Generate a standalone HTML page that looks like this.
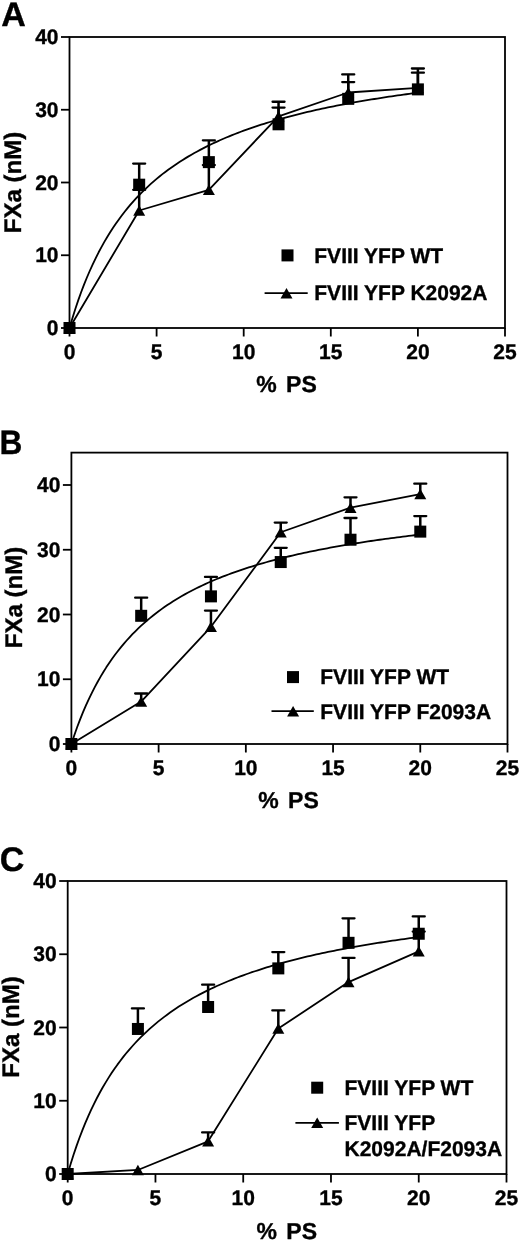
<!DOCTYPE html>
<html><head><meta charset="utf-8"><title>FXa vs PS</title>
<style>
html,body{margin:0;padding:0;background:#fff;}
body{width:520px;height:1245px;overflow:hidden;}
svg{display:block;will-change:transform;}
svg text{font-family:"Liberation Sans", sans-serif;fill:#000;text-rendering:geometricPrecision;stroke:#000;stroke-width:0.35px;}
</style></head>
<body>
<svg width="520" height="1245" viewBox="0 0 520 1245">
<rect width="520" height="1245" fill="#fff"/>
<text transform="translate(1.30,25.50) scale(1.0,1)" font-size="34" font-weight="bold">A</text>
<rect x="69.50" y="37.00" width="435.50" height="291.00" fill="none" stroke="#000" stroke-width="1.8"/>
<line x1="61.00" y1="328.00" x2="69.50" y2="328.00" stroke="#000" stroke-width="1.8"/>
<text x="58.50" y="335.10" font-size="21" font-weight="bold" text-anchor="end">0</text>
<line x1="61.00" y1="255.25" x2="69.50" y2="255.25" stroke="#000" stroke-width="1.8"/>
<text x="58.50" y="262.35" font-size="21" font-weight="bold" text-anchor="end">10</text>
<line x1="61.00" y1="182.50" x2="69.50" y2="182.50" stroke="#000" stroke-width="1.8"/>
<text x="58.50" y="189.60" font-size="21" font-weight="bold" text-anchor="end">20</text>
<line x1="61.00" y1="109.75" x2="69.50" y2="109.75" stroke="#000" stroke-width="1.8"/>
<text x="58.50" y="116.85" font-size="21" font-weight="bold" text-anchor="end">30</text>
<line x1="61.00" y1="37.00" x2="69.50" y2="37.00" stroke="#000" stroke-width="1.8"/>
<text x="58.50" y="44.10" font-size="21" font-weight="bold" text-anchor="end">40</text>
<line x1="69.50" y1="328.00" x2="69.50" y2="336.50" stroke="#000" stroke-width="1.8"/>
<text x="69.50" y="358.70" font-size="21" font-weight="bold" text-anchor="middle">0</text>
<line x1="156.60" y1="328.00" x2="156.60" y2="336.50" stroke="#000" stroke-width="1.8"/>
<text x="156.60" y="358.70" font-size="21" font-weight="bold" text-anchor="middle">5</text>
<line x1="243.70" y1="328.00" x2="243.70" y2="336.50" stroke="#000" stroke-width="1.8"/>
<text x="243.70" y="358.70" font-size="21" font-weight="bold" text-anchor="middle">10</text>
<line x1="330.80" y1="328.00" x2="330.80" y2="336.50" stroke="#000" stroke-width="1.8"/>
<text x="330.80" y="358.70" font-size="21" font-weight="bold" text-anchor="middle">15</text>
<line x1="417.90" y1="328.00" x2="417.90" y2="336.50" stroke="#000" stroke-width="1.8"/>
<text x="417.90" y="358.70" font-size="21" font-weight="bold" text-anchor="middle">20</text>
<line x1="505.00" y1="328.00" x2="505.00" y2="336.50" stroke="#000" stroke-width="1.8"/>
<text x="505.00" y="358.70" font-size="21" font-weight="bold" text-anchor="middle">25</text>
<text x="286.50" y="391.90" font-size="23" font-weight="bold" text-anchor="middle" word-spacing="3">% PS</text>
<text transform="translate(21.00,182.50) rotate(-90)" font-size="24" font-weight="bold" text-anchor="middle">FXa (nM)</text>
<polyline points="69.50,328.00 72.40,318.16 75.31,308.96 78.21,300.35 81.11,292.26 84.02,284.66 86.92,277.49 89.82,270.73 92.73,264.33 95.63,258.28 98.53,252.54 101.44,247.09 104.34,241.90 107.24,236.97 110.15,232.27 113.05,227.78 115.95,223.50 118.86,219.40 121.76,215.48 124.66,211.72 127.57,208.12 130.47,204.66 133.37,201.34 136.28,198.15 139.18,195.08 142.08,192.12 144.99,189.27 147.89,186.53 150.79,183.88 153.70,181.32 156.60,178.85 159.50,176.46 162.41,174.16 165.31,171.92 168.21,169.76 171.12,167.67 174.02,165.64 176.92,163.67 179.83,161.76 182.73,159.91 185.63,158.12 188.54,156.37 191.44,154.67 194.34,153.02 197.25,151.42 200.15,149.86 203.05,148.34 205.96,146.86 208.86,145.42 211.76,144.02 214.67,142.65 217.57,141.32 220.47,140.02 223.38,138.76 226.28,137.52 229.18,136.31 232.09,135.13 234.99,133.98 237.89,132.86 240.80,131.76 243.70,130.68 246.60,129.63 249.51,128.61 252.41,127.60 255.31,126.62 258.22,125.66 261.12,124.72 264.02,123.79 266.93,122.89 269.83,122.01 272.73,121.14 275.64,120.29 278.54,119.46 281.44,118.64 284.35,117.84 287.25,117.06 290.15,116.29 293.06,115.53 295.96,114.79 298.86,114.07 301.77,113.35 304.67,112.65 307.57,111.96 310.48,111.29 313.38,110.63 316.28,109.97 319.19,109.33 322.09,108.70 324.99,108.09 327.90,107.48 330.80,106.88 333.70,106.29 336.61,105.71 339.51,105.15 342.41,104.59 345.32,104.04 348.22,103.49 351.12,102.96 354.03,102.44 356.93,101.92 359.83,101.41 362.74,100.91 365.64,100.42 368.54,99.93 371.45,99.46 374.35,98.99 377.25,98.52 380.16,98.07 383.06,97.62 385.96,97.17 388.87,96.73 391.77,96.30 394.67,95.88 397.58,95.46 400.48,95.05 403.38,94.64 406.29,94.24 409.19,93.84 412.09,93.45 415.00,93.07 417.90,92.69" fill="none" stroke="#000" stroke-width="1.8" stroke-linejoin="round"/>
<polyline points="69.50,328.00 139.18,210.51 208.86,189.78 278.54,116.30 348.22,92.51 417.90,87.92" fill="none" stroke="#000" stroke-width="1.8" stroke-linejoin="round"/>
<line x1="139.18" y1="184.68" x2="139.18" y2="163.58" stroke="#000" stroke-width="2.5"/>
<line x1="133.18" y1="163.58" x2="145.18" y2="163.58" stroke="#000" stroke-width="2.3" stroke-linecap="round"/>
<line x1="208.86" y1="162.13" x2="208.86" y2="140.30" stroke="#000" stroke-width="2.5"/>
<line x1="202.86" y1="140.30" x2="214.86" y2="140.30" stroke="#000" stroke-width="2.3" stroke-linecap="round"/>
<line x1="278.54" y1="124.30" x2="278.54" y2="107.57" stroke="#000" stroke-width="2.5"/>
<line x1="272.54" y1="107.57" x2="284.54" y2="107.57" stroke="#000" stroke-width="2.3" stroke-linecap="round"/>
<line x1="348.22" y1="98.84" x2="348.22" y2="82.11" stroke="#000" stroke-width="2.5"/>
<line x1="342.22" y1="82.11" x2="354.22" y2="82.11" stroke="#000" stroke-width="2.3" stroke-linecap="round"/>
<line x1="417.90" y1="89.38" x2="417.90" y2="72.65" stroke="#000" stroke-width="2.5"/>
<line x1="411.90" y1="72.65" x2="423.90" y2="72.65" stroke="#000" stroke-width="2.3" stroke-linecap="round"/>
<line x1="139.18" y1="210.51" x2="139.18" y2="189.78" stroke="#000" stroke-width="2.5"/>
<line x1="133.18" y1="189.78" x2="145.18" y2="189.78" stroke="#000" stroke-width="2.3" stroke-linecap="round"/>
<line x1="208.86" y1="189.78" x2="208.86" y2="165.04" stroke="#000" stroke-width="2.5"/>
<line x1="202.86" y1="165.04" x2="214.86" y2="165.04" stroke="#000" stroke-width="2.3" stroke-linecap="round"/>
<line x1="278.54" y1="116.30" x2="278.54" y2="101.75" stroke="#000" stroke-width="2.5"/>
<line x1="272.54" y1="101.75" x2="284.54" y2="101.75" stroke="#000" stroke-width="2.3" stroke-linecap="round"/>
<line x1="348.22" y1="92.51" x2="348.22" y2="74.47" stroke="#000" stroke-width="2.5"/>
<line x1="342.22" y1="74.47" x2="354.22" y2="74.47" stroke="#000" stroke-width="2.3" stroke-linecap="round"/>
<line x1="417.90" y1="87.92" x2="417.90" y2="68.50" stroke="#000" stroke-width="2.5"/>
<line x1="411.90" y1="68.50" x2="423.90" y2="68.50" stroke="#000" stroke-width="2.3" stroke-linecap="round"/>
<path d="M69.50,322.75L75.50,333.25L63.50,333.25Z" fill="#000"/>
<path d="M139.18,205.26L145.18,215.76L133.18,215.76Z" fill="#000"/>
<path d="M208.86,184.53L214.86,195.03L202.86,195.03Z" fill="#000"/>
<path d="M278.54,111.05L284.54,121.55L272.54,121.55Z" fill="#000"/>
<path d="M348.22,87.26L354.22,97.76L342.22,97.76Z" fill="#000"/>
<path d="M417.90,82.67L423.90,93.17L411.90,93.17Z" fill="#000"/>
<rect x="63.50" y="322.00" width="12" height="12" fill="#000"/>
<rect x="133.18" y="178.68" width="12" height="12" fill="#000"/>
<rect x="202.86" y="156.13" width="12" height="12" fill="#000"/>
<rect x="272.54" y="118.30" width="12" height="12" fill="#000"/>
<rect x="342.22" y="92.84" width="12" height="12" fill="#000"/>
<rect x="411.90" y="83.38" width="12" height="12" fill="#000"/>
<rect x="281.50" y="249.40" width="12" height="12" fill="#000"/>
<text x="314.30" y="262.70" font-size="21" font-weight="bold">FVIII YFP WT</text>
<line x1="264.60" y1="293.20" x2="307.70" y2="293.20" stroke="#000" stroke-width="1.8"/>
<path d="M286.50,287.95L292.50,298.45L280.50,298.45Z" fill="#000"/>
<text x="314.30" y="299.60" font-size="21" font-weight="bold">FVIII YFP K2092A</text>
<text transform="translate(-0.60,454.30) scale(0.93,1)" font-size="34" font-weight="bold">B</text>
<rect x="71.40" y="452.62" width="436.10" height="291.38" fill="none" stroke="#000" stroke-width="1.8"/>
<line x1="62.90" y1="744.00" x2="71.40" y2="744.00" stroke="#000" stroke-width="1.8"/>
<text x="60.40" y="751.10" font-size="21" font-weight="bold" text-anchor="end">0</text>
<line x1="62.90" y1="679.25" x2="71.40" y2="679.25" stroke="#000" stroke-width="1.8"/>
<text x="60.40" y="686.35" font-size="21" font-weight="bold" text-anchor="end">10</text>
<line x1="62.90" y1="614.50" x2="71.40" y2="614.50" stroke="#000" stroke-width="1.8"/>
<text x="60.40" y="621.60" font-size="21" font-weight="bold" text-anchor="end">20</text>
<line x1="62.90" y1="549.75" x2="71.40" y2="549.75" stroke="#000" stroke-width="1.8"/>
<text x="60.40" y="556.85" font-size="21" font-weight="bold" text-anchor="end">30</text>
<line x1="62.90" y1="485.00" x2="71.40" y2="485.00" stroke="#000" stroke-width="1.8"/>
<text x="60.40" y="492.10" font-size="21" font-weight="bold" text-anchor="end">40</text>
<line x1="71.40" y1="744.00" x2="71.40" y2="752.50" stroke="#000" stroke-width="1.8"/>
<text x="71.40" y="774.50" font-size="21" font-weight="bold" text-anchor="middle">0</text>
<line x1="158.62" y1="744.00" x2="158.62" y2="752.50" stroke="#000" stroke-width="1.8"/>
<text x="158.62" y="774.50" font-size="21" font-weight="bold" text-anchor="middle">5</text>
<line x1="245.84" y1="744.00" x2="245.84" y2="752.50" stroke="#000" stroke-width="1.8"/>
<text x="245.84" y="774.50" font-size="21" font-weight="bold" text-anchor="middle">10</text>
<line x1="333.06" y1="744.00" x2="333.06" y2="752.50" stroke="#000" stroke-width="1.8"/>
<text x="333.06" y="774.50" font-size="21" font-weight="bold" text-anchor="middle">15</text>
<line x1="420.28" y1="744.00" x2="420.28" y2="752.50" stroke="#000" stroke-width="1.8"/>
<text x="420.28" y="774.50" font-size="21" font-weight="bold" text-anchor="middle">20</text>
<line x1="507.50" y1="744.00" x2="507.50" y2="752.50" stroke="#000" stroke-width="1.8"/>
<text x="507.50" y="774.50" font-size="21" font-weight="bold" text-anchor="middle">25</text>
<text x="288.50" y="807.90" font-size="23" font-weight="bold" text-anchor="middle" word-spacing="3">% PS</text>
<text transform="translate(22.40,597.50) rotate(-90)" font-size="24" font-weight="bold" text-anchor="middle">FXa (nM)</text>
<polyline points="71.40,744.00 74.31,735.24 77.21,727.06 80.12,719.39 83.03,712.19 85.94,705.42 88.84,699.05 91.75,693.03 94.66,687.33 97.57,681.95 100.47,676.84 103.38,671.98 106.29,667.37 109.20,662.98 112.10,658.79 115.01,654.80 117.92,650.99 120.82,647.34 123.73,643.85 126.64,640.51 129.55,637.30 132.45,634.22 135.36,631.27 138.27,628.43 141.18,625.69 144.08,623.06 146.99,620.53 149.90,618.08 152.81,615.73 155.71,613.45 158.62,611.25 161.53,609.13 164.43,607.07 167.34,605.09 170.25,603.16 173.16,601.30 176.06,599.49 178.97,597.74 181.88,596.04 184.79,594.40 187.69,592.80 190.60,591.24 193.51,589.73 196.42,588.27 199.32,586.84 202.23,585.45 205.14,584.10 208.04,582.78 210.95,581.50 213.86,580.25 216.77,579.04 219.67,577.85 222.58,576.69 225.49,575.57 228.40,574.47 231.30,573.39 234.21,572.34 237.12,571.32 240.03,570.32 242.93,569.34 245.84,568.38 248.75,567.45 251.65,566.53 254.56,565.64 257.47,564.76 260.38,563.91 263.28,563.07 266.19,562.25 269.10,561.45 272.01,560.66 274.91,559.89 277.82,559.13 280.73,558.39 283.64,557.67 286.54,556.95 289.45,556.25 292.36,555.57 295.26,554.90 298.17,554.24 301.08,553.59 303.99,552.96 306.89,552.33 309.80,551.72 312.71,551.12 315.62,550.53 318.52,549.95 321.43,549.38 324.34,548.82 327.25,548.27 330.15,547.73 333.06,547.20 335.97,546.67 338.87,546.16 341.78,545.65 344.69,545.15 347.60,544.66 350.50,544.18 353.41,543.71 356.32,543.24 359.23,542.78 362.13,542.33 365.04,541.88 367.95,541.45 370.86,541.01 373.76,540.59 376.67,540.17 379.58,539.76 382.48,539.35 385.39,538.95 388.30,538.55 391.21,538.17 394.11,537.78 397.02,537.40 399.93,537.03 402.84,536.66 405.74,536.30 408.65,535.94 411.56,535.59 414.47,535.24 417.37,534.90 420.28,534.56" fill="none" stroke="#000" stroke-width="1.8" stroke-linejoin="round"/>
<polyline points="71.40,744.00 141.18,701.52 210.95,626.80 280.73,532.27 350.50,507.66 420.28,494.06" fill="none" stroke="#000" stroke-width="1.8" stroke-linejoin="round"/>
<line x1="141.18" y1="615.80" x2="141.18" y2="597.66" stroke="#000" stroke-width="2.5"/>
<line x1="135.18" y1="597.66" x2="147.18" y2="597.66" stroke="#000" stroke-width="2.3" stroke-linecap="round"/>
<line x1="210.95" y1="596.37" x2="210.95" y2="576.94" stroke="#000" stroke-width="2.5"/>
<line x1="204.95" y1="576.94" x2="216.95" y2="576.94" stroke="#000" stroke-width="2.3" stroke-linecap="round"/>
<line x1="280.73" y1="562.05" x2="280.73" y2="547.81" stroke="#000" stroke-width="2.5"/>
<line x1="274.73" y1="547.81" x2="286.73" y2="547.81" stroke="#000" stroke-width="2.3" stroke-linecap="round"/>
<line x1="350.50" y1="539.71" x2="350.50" y2="518.02" stroke="#000" stroke-width="2.5"/>
<line x1="344.50" y1="518.02" x2="356.50" y2="518.02" stroke="#000" stroke-width="2.3" stroke-linecap="round"/>
<line x1="420.28" y1="531.62" x2="420.28" y2="516.08" stroke="#000" stroke-width="2.5"/>
<line x1="414.28" y1="516.08" x2="426.28" y2="516.08" stroke="#000" stroke-width="2.3" stroke-linecap="round"/>
<line x1="141.18" y1="701.52" x2="141.18" y2="693.50" stroke="#000" stroke-width="2.5"/>
<line x1="135.18" y1="693.50" x2="147.18" y2="693.50" stroke="#000" stroke-width="2.3" stroke-linecap="round"/>
<line x1="210.95" y1="626.80" x2="210.95" y2="610.62" stroke="#000" stroke-width="2.5"/>
<line x1="204.95" y1="610.62" x2="216.95" y2="610.62" stroke="#000" stroke-width="2.3" stroke-linecap="round"/>
<line x1="280.73" y1="532.27" x2="280.73" y2="522.56" stroke="#000" stroke-width="2.5"/>
<line x1="274.73" y1="522.56" x2="286.73" y2="522.56" stroke="#000" stroke-width="2.3" stroke-linecap="round"/>
<line x1="350.50" y1="507.66" x2="350.50" y2="497.30" stroke="#000" stroke-width="2.5"/>
<line x1="344.50" y1="497.30" x2="356.50" y2="497.30" stroke="#000" stroke-width="2.3" stroke-linecap="round"/>
<line x1="420.28" y1="494.06" x2="420.28" y2="483.70" stroke="#000" stroke-width="2.5"/>
<line x1="414.28" y1="483.70" x2="426.28" y2="483.70" stroke="#000" stroke-width="2.3" stroke-linecap="round"/>
<path d="M71.40,738.75L77.40,749.25L65.40,749.25Z" fill="#000"/>
<path d="M141.18,696.27L147.18,706.77L135.18,706.77Z" fill="#000"/>
<path d="M210.95,621.55L216.95,632.05L204.95,632.05Z" fill="#000"/>
<path d="M280.73,527.02L286.73,537.52L274.73,537.52Z" fill="#000"/>
<path d="M350.50,502.41L356.50,512.91L344.50,512.91Z" fill="#000"/>
<path d="M420.28,488.81L426.28,499.31L414.28,499.31Z" fill="#000"/>
<rect x="65.40" y="738.00" width="12" height="12" fill="#000"/>
<rect x="135.18" y="609.80" width="12" height="12" fill="#000"/>
<rect x="204.95" y="590.37" width="12" height="12" fill="#000"/>
<rect x="274.73" y="556.05" width="12" height="12" fill="#000"/>
<rect x="344.50" y="533.71" width="12" height="12" fill="#000"/>
<rect x="414.28" y="525.62" width="12" height="12" fill="#000"/>
<rect x="287.00" y="671.10" width="12" height="12" fill="#000"/>
<text x="320.30" y="683.80" font-size="21" font-weight="bold">FVIII YFP WT</text>
<line x1="271.50" y1="711.20" x2="313.80" y2="711.20" stroke="#000" stroke-width="1.8"/>
<path d="M293.10,705.95L299.10,716.45L287.10,716.45Z" fill="#000"/>
<text x="320.30" y="718.80" font-size="21" font-weight="bold">FVIII YFP F2093A</text>
<text transform="translate(-0.20,870.60) scale(1.0,1)" font-size="34" font-weight="bold">C</text>
<rect x="67.70" y="881.00" width="438.80" height="293.00" fill="none" stroke="#000" stroke-width="1.8"/>
<line x1="59.20" y1="1174.00" x2="67.70" y2="1174.00" stroke="#000" stroke-width="1.8"/>
<text x="56.70" y="1181.10" font-size="21" font-weight="bold" text-anchor="end">0</text>
<line x1="59.20" y1="1100.75" x2="67.70" y2="1100.75" stroke="#000" stroke-width="1.8"/>
<text x="56.70" y="1107.85" font-size="21" font-weight="bold" text-anchor="end">10</text>
<line x1="59.20" y1="1027.50" x2="67.70" y2="1027.50" stroke="#000" stroke-width="1.8"/>
<text x="56.70" y="1034.60" font-size="21" font-weight="bold" text-anchor="end">20</text>
<line x1="59.20" y1="954.25" x2="67.70" y2="954.25" stroke="#000" stroke-width="1.8"/>
<text x="56.70" y="961.35" font-size="21" font-weight="bold" text-anchor="end">30</text>
<line x1="59.20" y1="881.00" x2="67.70" y2="881.00" stroke="#000" stroke-width="1.8"/>
<text x="56.70" y="888.10" font-size="21" font-weight="bold" text-anchor="end">40</text>
<line x1="67.70" y1="1174.00" x2="67.70" y2="1182.50" stroke="#000" stroke-width="1.8"/>
<text x="67.70" y="1205.20" font-size="21" font-weight="bold" text-anchor="middle">0</text>
<line x1="155.46" y1="1174.00" x2="155.46" y2="1182.50" stroke="#000" stroke-width="1.8"/>
<text x="155.46" y="1205.20" font-size="21" font-weight="bold" text-anchor="middle">5</text>
<line x1="243.22" y1="1174.00" x2="243.22" y2="1182.50" stroke="#000" stroke-width="1.8"/>
<text x="243.22" y="1205.20" font-size="21" font-weight="bold" text-anchor="middle">10</text>
<line x1="330.98" y1="1174.00" x2="330.98" y2="1182.50" stroke="#000" stroke-width="1.8"/>
<text x="330.98" y="1205.20" font-size="21" font-weight="bold" text-anchor="middle">15</text>
<line x1="418.74" y1="1174.00" x2="418.74" y2="1182.50" stroke="#000" stroke-width="1.8"/>
<text x="418.74" y="1205.20" font-size="21" font-weight="bold" text-anchor="middle">20</text>
<line x1="506.50" y1="1174.00" x2="506.50" y2="1182.50" stroke="#000" stroke-width="1.8"/>
<text x="506.50" y="1205.20" font-size="21" font-weight="bold" text-anchor="middle">25</text>
<text x="286.80" y="1238.70" font-size="23" font-weight="bold" text-anchor="middle" word-spacing="3">% PS</text>
<text transform="translate(19.00,1027.00) rotate(-90)" font-size="24" font-weight="bold" text-anchor="middle">FXa (nM)</text>
<polyline points="67.70,1174.00 70.63,1164.09 73.55,1154.83 76.48,1146.16 79.40,1138.02 82.33,1130.36 85.25,1123.14 88.18,1116.33 91.10,1109.90 94.03,1103.80 96.95,1098.02 99.88,1092.53 102.80,1087.31 105.73,1082.34 108.65,1077.61 111.58,1073.09 114.51,1068.78 117.43,1064.65 120.36,1060.70 123.28,1056.92 126.21,1053.29 129.13,1049.81 132.06,1046.47 134.98,1043.25 137.91,1040.16 140.83,1037.19 143.76,1034.32 146.68,1031.55 149.61,1028.89 152.53,1026.31 155.46,1023.83 158.39,1021.42 161.31,1019.10 164.24,1016.85 167.16,1014.67 170.09,1012.57 173.01,1010.52 175.94,1008.54 178.86,1006.62 181.79,1004.76 184.71,1002.95 187.64,1001.19 190.56,999.48 193.49,997.82 196.41,996.21 199.34,994.64 202.27,993.11 205.19,991.62 208.12,990.17 211.04,988.76 213.97,987.38 216.89,986.04 219.82,984.73 222.74,983.45 225.67,982.21 228.59,980.99 231.52,979.81 234.44,978.65 237.37,977.52 240.29,976.41 243.22,975.33 246.15,974.27 249.07,973.24 252.00,972.22 254.92,971.23 257.85,970.27 260.77,969.32 263.70,968.39 266.62,967.48 269.55,966.59 272.47,965.72 275.40,964.86 278.32,964.03 281.25,963.20 284.17,962.40 287.10,961.61 290.03,960.83 292.95,960.07 295.88,959.33 298.80,958.60 301.73,957.88 304.65,957.17 307.58,956.48 310.50,955.80 313.43,955.13 316.35,954.48 319.28,953.83 322.20,953.20 325.13,952.57 328.05,951.96 330.98,951.36 333.91,950.77 336.83,950.19 339.76,949.61 342.68,949.05 345.61,948.50 348.53,947.95 351.46,947.41 354.38,946.89 357.31,946.37 360.23,945.86 363.16,945.35 366.08,944.86 369.01,944.37 371.93,943.89 374.86,943.41 377.79,942.95 380.71,942.49 383.64,942.03 386.56,941.59 389.49,941.15 392.41,940.71 395.34,940.28 398.26,939.86 401.19,939.45 404.11,939.04 407.04,938.63 409.96,938.23 412.89,937.84 415.81,937.45 418.74,937.07" fill="none" stroke="#000" stroke-width="1.8" stroke-linejoin="round"/>
<polyline points="67.70,1174.00 137.91,1169.97 208.12,1141.33 278.32,1028.53 348.53,982.09 418.74,951.32" fill="none" stroke="#000" stroke-width="1.8" stroke-linejoin="round"/>
<line x1="137.91" y1="1028.96" x2="137.91" y2="1008.45" stroke="#000" stroke-width="2.5"/>
<line x1="131.91" y1="1008.45" x2="143.91" y2="1008.45" stroke="#000" stroke-width="2.3" stroke-linecap="round"/>
<line x1="208.12" y1="1006.99" x2="208.12" y2="984.65" stroke="#000" stroke-width="2.5"/>
<line x1="202.12" y1="984.65" x2="214.12" y2="984.65" stroke="#000" stroke-width="2.3" stroke-linecap="round"/>
<line x1="278.32" y1="968.39" x2="278.32" y2="952.05" stroke="#000" stroke-width="2.5"/>
<line x1="272.32" y1="952.05" x2="284.32" y2="952.05" stroke="#000" stroke-width="2.3" stroke-linecap="round"/>
<line x1="348.53" y1="942.82" x2="348.53" y2="918.36" stroke="#000" stroke-width="2.5"/>
<line x1="342.53" y1="918.36" x2="354.53" y2="918.36" stroke="#000" stroke-width="2.3" stroke-linecap="round"/>
<line x1="418.74" y1="933.74" x2="418.74" y2="916.38" stroke="#000" stroke-width="2.5"/>
<line x1="412.74" y1="916.38" x2="424.74" y2="916.38" stroke="#000" stroke-width="2.3" stroke-linecap="round"/>
<line x1="208.12" y1="1141.33" x2="208.12" y2="1132.39" stroke="#000" stroke-width="2.5"/>
<line x1="202.12" y1="1132.39" x2="214.12" y2="1132.39" stroke="#000" stroke-width="2.3" stroke-linecap="round"/>
<line x1="278.32" y1="1028.53" x2="278.32" y2="1010.43" stroke="#000" stroke-width="2.5"/>
<line x1="272.32" y1="1010.43" x2="284.32" y2="1010.43" stroke="#000" stroke-width="2.3" stroke-linecap="round"/>
<line x1="348.53" y1="982.09" x2="348.53" y2="957.91" stroke="#000" stroke-width="2.5"/>
<line x1="342.53" y1="957.91" x2="354.53" y2="957.91" stroke="#000" stroke-width="2.3" stroke-linecap="round"/>
<line x1="418.74" y1="951.32" x2="418.74" y2="931.54" stroke="#000" stroke-width="2.5"/>
<line x1="412.74" y1="931.54" x2="424.74" y2="931.54" stroke="#000" stroke-width="2.3" stroke-linecap="round"/>
<path d="M67.70,1168.75L73.70,1179.25L61.70,1179.25Z" fill="#000"/>
<path d="M137.91,1164.72L143.91,1175.22L131.91,1175.22Z" fill="#000"/>
<path d="M208.12,1136.08L214.12,1146.58L202.12,1146.58Z" fill="#000"/>
<path d="M278.32,1023.28L284.32,1033.78L272.32,1033.78Z" fill="#000"/>
<path d="M348.53,976.84L354.53,987.34L342.53,987.34Z" fill="#000"/>
<path d="M418.74,946.07L424.74,956.57L412.74,956.57Z" fill="#000"/>
<rect x="61.70" y="1168.00" width="12" height="12" fill="#000"/>
<rect x="131.91" y="1022.96" width="12" height="12" fill="#000"/>
<rect x="202.12" y="1000.99" width="12" height="12" fill="#000"/>
<rect x="272.32" y="962.39" width="12" height="12" fill="#000"/>
<rect x="342.53" y="936.82" width="12" height="12" fill="#000"/>
<rect x="412.74" y="927.74" width="12" height="12" fill="#000"/>
<rect x="311.20" y="1081.70" width="12" height="12" fill="#000"/>
<text x="344.50" y="1094.60" font-size="21" font-weight="bold">FVIII YFP WT</text>
<line x1="295.40" y1="1122.80" x2="338.90" y2="1122.80" stroke="#000" stroke-width="1.8"/>
<path d="M317.20,1117.55L323.20,1128.05L311.20,1128.05Z" fill="#000"/>
<text x="344.50" y="1129.70" font-size="21" font-weight="bold">FVIII YFP</text>
<text x="344.50" y="1156.20" font-size="21" font-weight="bold">K2092A/F2093A</text>
</svg>
</body></html>
